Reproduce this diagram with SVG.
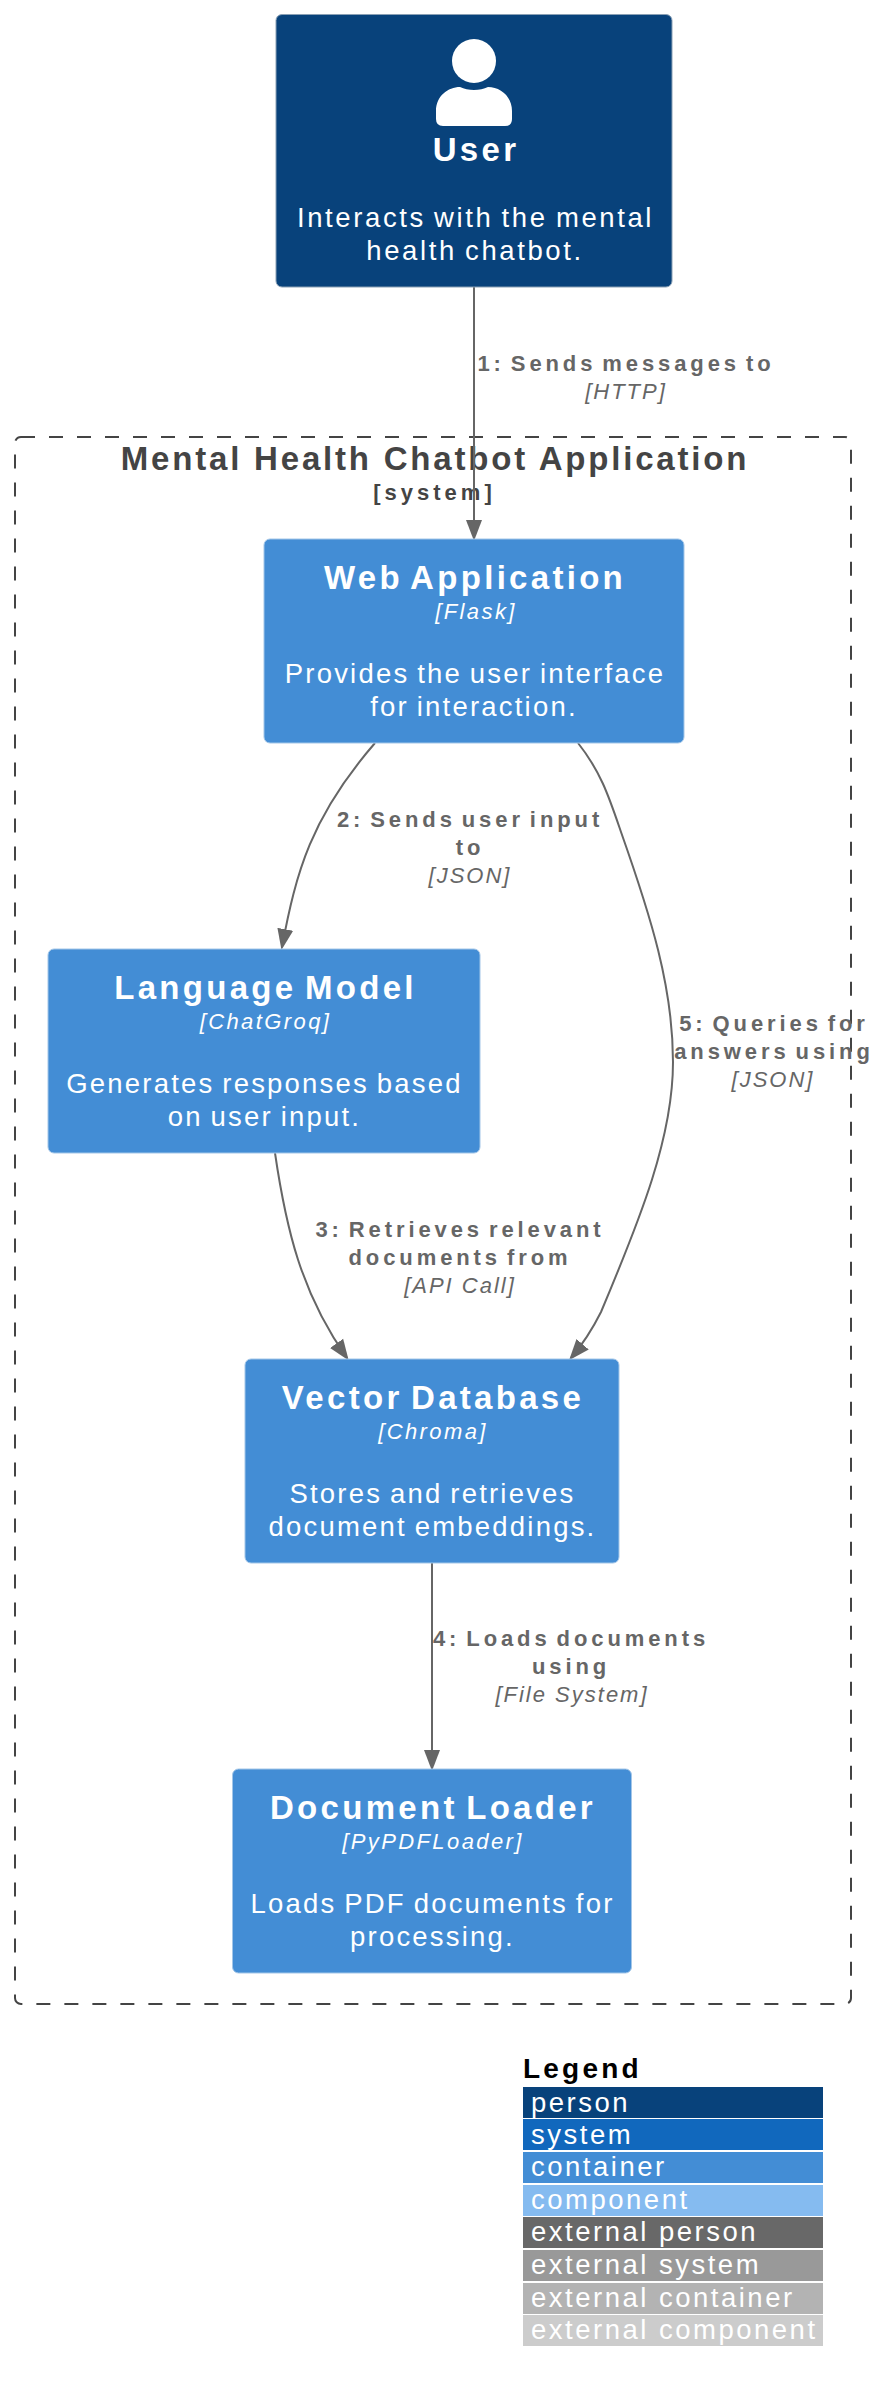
<svg xmlns="http://www.w3.org/2000/svg" width="884" height="2400" viewBox="0 0 884 2400">
<defs>
<marker id="arrow" markerUnits="userSpaceOnUse" markerWidth="21" markerHeight="17" refX="18" refY="8.5" orient="auto"><path d="M0,0.5 L21,8.5 L0,16.5 Z" fill="#666666"/></marker>
</defs>
<style>
text{font-family:"Liberation Sans",Arial,sans-serif;text-anchor:middle}
.box{stroke-width:1}
.nt{font-size:33px;font-weight:bold;fill:#fff;letter-spacing:3.3px;word-spacing:-4px}
.tech{font-size:22px;font-style:italic;fill:#fff;letter-spacing:2.4px}
.desc{font-size:27.5px;fill:#fff;letter-spacing:2.2px;word-spacing:-2px}
.el{font-size:22px;font-weight:bold;fill:#666;letter-spacing:3.9px;word-spacing:-4px}
.et{font-size:22px;font-style:italic;fill:#666;letter-spacing:2px}
.lg{font-size:27.5px;fill:#fff;letter-spacing:2.5px;text-anchor:start}
.conn{fill:none;stroke:#666666;stroke-width:2;marker-end:url(#arrow)}
</style>
<rect width="884" height="2400" fill="#fff"/>
<g id="boundary">
<rect x="15" y="437" width="836" height="1567" rx="6" fill="none" stroke="#444" stroke-width="2" stroke-dasharray="14 14"/>
<text x="435" y="470" font-size="33px" font-weight="bold" fill="#444" letter-spacing="2.8">Mental Health Chatbot Application</text>
<text x="434.5" y="500" font-size="22px" font-weight="bold" fill="#444" letter-spacing="4">[system]</text>
</g>
<g id="connectors">
<path class="conn" d="M474,287 L474,538"/>
<path class="conn" d="M375,743 C311,817 296,872 282,947"/>
<path class="conn" d="M578,743 C601,772 609,797 621,832 C651,917 673,987 673,1062 C673,1137 641,1217 601,1312 C591,1332 582,1345 571,1358"/>
<path class="conn" d="M275,1153 C286,1228 301,1293 347,1358"/>
<path class="conn" d="M432,1563 L432,1768"/>
<text class="el" x="626" y="371">1: Sends messages to</text>
<text class="et" x="626" y="399">[HTTP]</text>
<text class="el" x="470" y="827">2: Sends user input</text>
<text class="el" x="470" y="855">to</text>
<text class="et" x="470" y="883">[JSON]</text>
<text class="el" x="460" y="1237">3: Retrieves relevant</text>
<text class="el" x="460" y="1265">documents from</text>
<text class="et" x="460" y="1293">[API Call]</text>
<text class="el" x="774" y="1031">5: Queries for</text>
<text class="el" x="774" y="1059">answers using</text>
<text class="et" x="773" y="1087">[JSON]</text>
<text class="el" x="571" y="1646">4: Loads documents</text>
<text class="el" x="571" y="1674">using</text>
<text class="et" x="572" y="1702">[File System]</text>
</g>
<g id="user">
<rect class="box" x="276" y="14.5" width="396" height="272.5" rx="6" fill="#08427b" stroke="#8aa0b5"/>
<circle cx="474" cy="61" r="22" fill="#fff"/>
<path d="M436,119 Q436,126 443,126 H505 Q512,126 512,119 V111 C512,96 500,87 488,87 C480,91 468,91 460,87 C448,87 436,96 436,111 Z" fill="#fff"/>
<text class="nt" x="476" y="161">User</text>
<text class="desc" x="475.5" y="227" style="letter-spacing:2.6px">Interacts with the mental</text>
<text class="desc" x="475" y="260" style="letter-spacing:2.6px">health chatbot.</text>
</g>
<g id="web-application">
<rect class="box" x="264" y="539" width="420" height="204" rx="6" fill="#438dd5" stroke="#a3c6e8"/>
<text class="nt" x="475" y="589">Web Application</text>
<text class="tech" x="476" y="619">[Flask]</text>
<text class="desc" x="475" y="683">Provides the user interface</text>
<text class="desc" x="474" y="716">for interaction.</text>
</g>
<g id="language-model">
<rect class="box" x="48" y="949" width="432" height="204" rx="6" fill="#438dd5" stroke="#a3c6e8"/>
<text class="nt" x="265.5" y="999">Language Model</text>
<text class="tech" x="265.5" y="1029">[ChatGroq]</text>
<text class="desc" x="264.5" y="1093">Generates responses based</text>
<text class="desc" x="264.5" y="1126">on user input.</text>
</g>
<g id="vector-database">
<rect class="box" x="245" y="1359" width="374" height="204" rx="6" fill="#438dd5" stroke="#a3c6e8"/>
<text class="nt" x="433" y="1409">Vector Database</text>
<text class="tech" x="433" y="1439">[Chroma]</text>
<text class="desc" x="432.5" y="1503">Stores and retrieves</text>
<text class="desc" x="432.5" y="1536">document embeddings.</text>
</g>
<g id="document-loader">
<rect class="box" x="232.5" y="1769" width="399" height="204" rx="6" fill="#438dd5" stroke="#a3c6e8"/>
<text class="nt" x="433" y="1819">Document Loader</text>
<text class="tech" x="433" y="1849">[PyPDFLoader]</text>
<text class="desc" x="432.5" y="1913">Loads PDF documents for</text>
<text class="desc" x="432.5" y="1946">processing.</text>
</g>
<g id="legend">
<text x="523" y="2078" font-size="28px" font-weight="bold" fill="#000" letter-spacing="3.2" style="text-anchor:start">Legend</text>
<rect x="523" y="2087" width="300" height="31" fill="#08427b"/>
<rect x="523" y="2119" width="300" height="31" fill="#1168bd"/>
<rect x="523" y="2152" width="300" height="31" fill="#438dd5"/>
<rect x="523" y="2185" width="300" height="31" fill="#85bbf0"/>
<rect x="523" y="2217" width="300" height="31" fill="#686868"/>
<rect x="523" y="2250" width="300" height="31" fill="#999999"/>
<rect x="523" y="2283" width="300" height="31" fill="#b3b3b3"/>
<rect x="523" y="2315" width="300" height="31" fill="#cccccc"/>
<text class="lg" x="531" y="2112">person</text>
<text class="lg" x="531" y="2144">system</text>
<text class="lg" x="531" y="2176">container</text>
<text class="lg" x="531" y="2209">component</text>
<text class="lg" x="531" y="2241">external person</text>
<text class="lg" x="531" y="2274">external system</text>
<text class="lg" x="531" y="2307">external container</text>
<text class="lg" x="531" y="2339">external component</text>
</g>
</svg>
